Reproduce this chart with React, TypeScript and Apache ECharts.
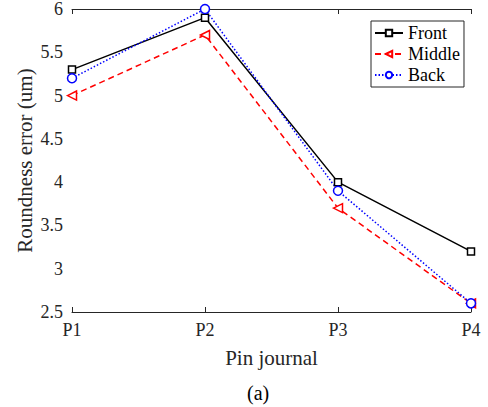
import React, { useEffect, useRef } from "react";
import * as echarts from "echarts";

const categories = ["P1", "P2", "P3", "P4"];
const front = [5.3, 5.9, 4.0, 3.2];
const middle = [5.0, 5.7, 3.7, 2.6];
const back = [5.2, 6.0, 3.9, 2.6];
const yTicks = { min: 2.5, max: 6, interval: 0.5 };

const FONT = "Liberation Serif";
const AX = "#262626";

export default function App() {
  const ref = useRef<HTMLDivElement>(null);
  useEffect(() => {
    const chart = echarts.init(ref.current!, null, { renderer: "svg" });
    const common = {
      axisLine: { lineStyle: { color: AX, width: 1 } },
      axisTick: { inside: true, length: 5, lineStyle: { color: AX } },
      splitLine: { show: false },
    };
    chart.setOption({
      animation: false,
      backgroundColor: "#fff",
      textStyle: { fontFamily: FONT },
      grid: { left: 72, top: 9, width: 399, height: 303 },
      legend: {
        left: 371,
        top: 21,
        orient: "vertical",
        backgroundColor: "#fff",
        borderColor: AX,
        borderWidth: 1,
        borderRadius: 0,
        padding: [3, 4, 3, 3],
        itemGap: 3,
        itemWidth: 28,
        itemHeight: 8,
        textStyle: { fontFamily: FONT, fontSize: 18, color: "#000" },
        data: ["Front", "Middle", "Back"],
      },
      xAxis: [
        {
          type: "category",
          data: categories,
          boundaryGap: false,
          ...common,
          axisTick: { ...common.axisTick, alignWithLabel: true },
          axisLabel: { fontFamily: FONT, fontSize: 18, color: "#262626", margin: 9 },
          name: "Pin journal",
          nameLocation: "middle",
          nameGap: 35,
          nameMoveOverlap: false,
          nameTextStyle: { fontFamily: FONT, fontSize: 21, color: "#262626" },
        },
        {
          type: "category",
          data: categories,
          boundaryGap: false,
          position: "top",
          ...common,
          axisLabel: { show: false },
        },
      ],
      yAxis: [
        {
          type: "value",
          ...yTicks,
          ...common,
          axisLabel: { fontFamily: FONT, fontSize: 18, color: "#262626", margin: 9 },
          name: "Roundness error (um)",
          nameLocation: "middle",
          nameGap: 37,
          nameMoveOverlap: false,
          nameTextStyle: { fontFamily: FONT, fontSize: 21, color: "#262626" },
        },
        {
          type: "value",
          ...yTicks,
          position: "right",
          ...common,
          axisLabel: { show: false },
        },
      ],
      graphic: [
        {
          type: "text",
          left: 247,
          top: 383,
          style: { text: "(a)", font: `20px ${FONT}`, fill: "#000" },
        },
      ],
      series: [
        {
          name: "Front",
          type: "line",
          data: front,
          symbol: "rect",
          symbolSize: 7,
          lineStyle: { color: "#000", width: 1.5, type: "solid" },
          itemStyle: { color: "#fff", borderColor: "#000", borderWidth: 1.5 },
        },
        {
          name: "Middle",
          type: "line",
          data: middle,
          symbol: "triangle",
          symbolRotate: 90,
          symbolSize: 9,
          lineStyle: { color: "#ff0000", width: 1.5, type: [6, 4] },
          itemStyle: { color: "#fff", borderColor: "#ff0000", borderWidth: 1.5 },
        },
        {
          name: "Back",
          type: "line",
          data: back,
          symbol: "circle",
          symbolSize: 9,
          lineStyle: { color: "#0000ff", width: 1.5, type: [1.5, 2] },
          itemStyle: { color: "#fff", borderColor: "#0000ff", borderWidth: 1.5 },
        },
      ],
    });
    return () => chart.dispose();
  }, []);
  return <div ref={ref} style={{ width: 488, height: 407, position: "absolute", left: 0, top: 0 }} />;
}
